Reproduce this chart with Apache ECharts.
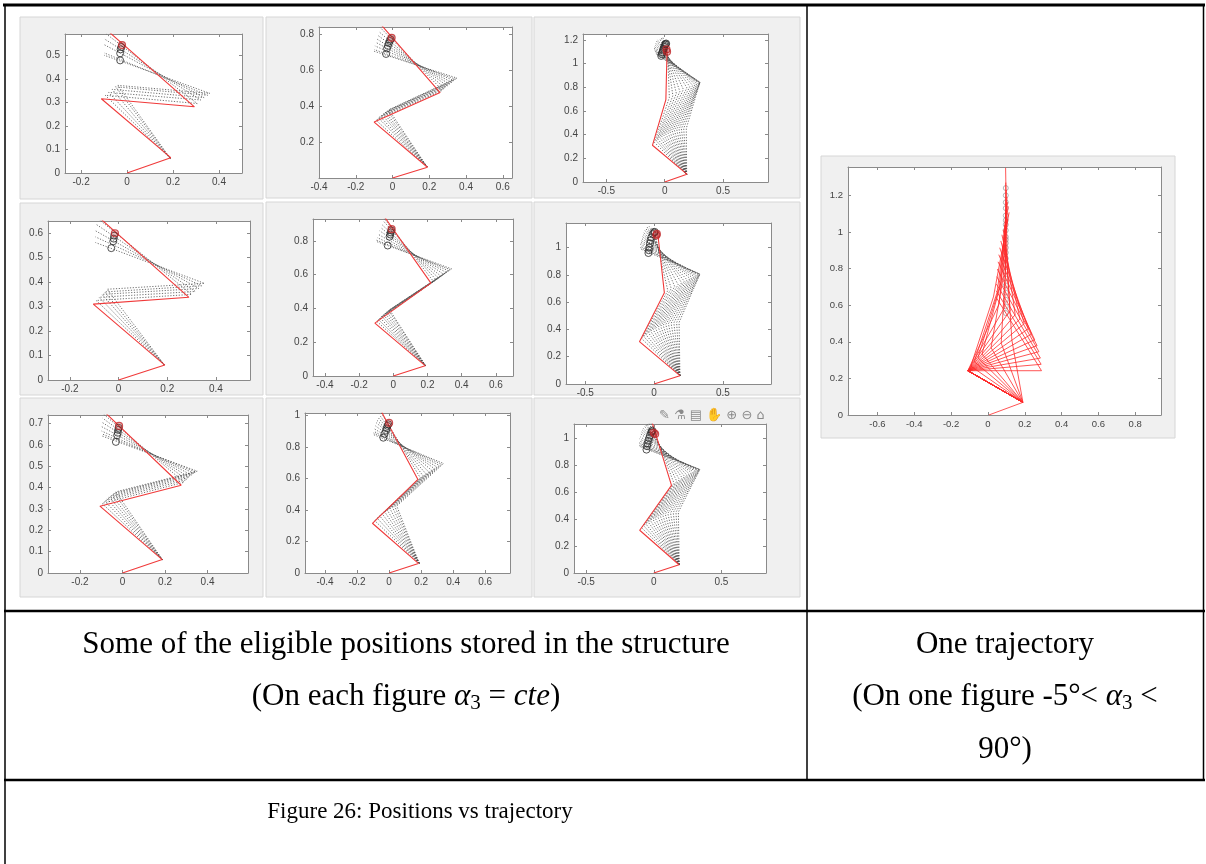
<!DOCTYPE html>
<html><head><meta charset="utf-8">
<script src="https://cdn.jsdelivr.net/npm/echarts@6/dist/echarts.min.js"></script>
<style>html,body{margin:0;padding:0;background:#fff}#c{width:1206px;height:864px}</style>
</head><body><div id="c"></div>
<script>
// ---------------- DATA ----------------
// common first link joint (x, y)
const joint1 = [0.188, 0.062];

// A1 (row 1, col 1)
const a1X = [-0.27, 0.5], a1Y = [0, 0.59];
const a1XTicks = [-0.2, 0, 0.2, 0.4], a1YTicks = [0, 0.1, 0.2, 0.3, 0.4, 0.5];
const a1Red = [[0,0],[0.19,0.065],[-0.112,0.315],[0.293,0.281],[-0.08,0.6]];
const a1Gray = [
  [[-0.095,0.33],[0.305,0.295],[-0.09,0.59]],
  [[-0.08,0.342],[0.32,0.31],[-0.1,0.57]],
  [[-0.065,0.355],[0.335,0.32],[-0.1,0.545]],
  [[-0.05,0.366],[0.35,0.33],[-0.1,0.51]],
  [[-0.04,0.372],[0.36,0.338],[-0.1,0.5]]
];
const a1Circ = [[-0.025,0.535],[-0.028,0.525],[-0.03,0.508],[-0.03,0.478]];
const a1RedCirc = [[-0.022,0.543]];

// A2 (row 1, col 2)
const a2X = [-0.4, 0.65], a2Y = [0, 0.84];
const a2XTicks = [-0.4, -0.2, 0, 0.2, 0.4, 0.6], a2YTicks = [0.2, 0.4, 0.6, 0.8];
const a2Red = [[0,0],[0.19,0.06],[-0.1,0.311],[0.259,0.475],[-0.06,0.85]];
const a2Gray = [
  [[-0.09,0.322],[0.272,0.488],[-0.065,0.835]],
  [[-0.078,0.335],[0.285,0.5],[-0.075,0.815]],
  [[-0.068,0.343],[0.298,0.512],[-0.082,0.795]],
  [[-0.057,0.352],[0.31,0.522],[-0.088,0.775]],
  [[-0.047,0.36],[0.322,0.532],[-0.092,0.755]],
  [[-0.038,0.367],[0.333,0.542],[-0.096,0.735]],
  [[-0.027,0.374],[0.342,0.55],[-0.1,0.715]],
  [[-0.02,0.38],[0.35,0.556],[-0.1,0.705]]
];
const a2Circ = [[-0.01,0.772],[-0.015,0.762],[-0.02,0.75],[-0.025,0.735],[-0.03,0.72],[-0.035,0.69]];
const a2RedCirc = [[-0.005,0.78]];

// A3 (row 1, col 3)
const a3X = [-0.7, 0.885], a3Y = [0, 1.25];
const a3XTicks = [-0.5, 0, 0.5], a3YTicks = [0, 0.2, 0.4, 0.6, 0.8, 1, 1.2];
const a3Red = [[0,0],[0.19,0.066],[-0.105,0.31],[0.01,0.695],[0.02,1.11]];
const a3Gray = [
  [[-0.088,0.335],[0.04,0.715],[0.02,1.2]],
  [[-0.072,0.348],[0.07,0.73],[0.0,1.21]],
  [[-0.059,0.362],[0.10,0.748],[-0.015,1.22]],
  [[-0.042,0.375],[0.13,0.765],[-0.03,1.22]],
  [[-0.026,0.387],[0.16,0.782],[-0.045,1.215]],
  [[-0.009,0.398],[0.19,0.795],[-0.06,1.2]],
  [[0.008,0.408],[0.215,0.805],[-0.07,1.19]],
  [[0.027,0.417],[0.24,0.815],[-0.08,1.175]],
  [[0.045,0.425],[0.26,0.823],[-0.085,1.16]],
  [[0.064,0.432],[0.275,0.83],[-0.09,1.145]],
  [[0.083,0.438],[0.288,0.835],[-0.09,1.13]],
  [[0.103,0.443],[0.297,0.839],[-0.09,1.12]],
  [[0.123,0.447],[0.302,0.841],[-0.088,1.11]],
  [[0.143,0.45],[0.303,0.842],[-0.085,1.1]],
  [[0.163,0.452],[0.302,0.84],[-0.08,1.09]],
  [[0.185,0.453],[0.30,0.838],[-0.075,1.08]]
];
const a3Circ = [[-0.03,1.065],[-0.025,1.08],[-0.02,1.095],[-0.015,1.11],[-0.01,1.125],[-0.005,1.14],[0.0,1.15],[0.005,1.16],[0.01,1.165],[0.012,1.17]];
const a3RedCirc = [[0.015,1.12],[0.02,1.1]];

// B1 (row 2, col 1)
const b1X = [-0.29, 0.54], b1Y = [0, 0.65];
const b1XTicks = [-0.2, 0, 0.2, 0.4], b1YTicks = [0, 0.1, 0.2, 0.3, 0.4, 0.5, 0.6];
const b1Red = [[0,0],[0.19,0.061],[-0.104,0.31],[0.289,0.338],[-0.075,0.66]];
const b1Gray = [
  [[-0.092,0.325],[0.30,0.35],[-0.085,0.66]],
  [[-0.08,0.338],[0.315,0.362],[-0.09,0.635]],
  [[-0.068,0.35],[0.33,0.374],[-0.095,0.61]],
  [[-0.057,0.36],[0.342,0.385],[-0.095,0.585]],
  [[-0.047,0.371],[0.353,0.395],[-0.095,0.562]]
];
const b1Circ = [[-0.018,0.59],[-0.02,0.578],[-0.022,0.567],[-0.03,0.539]];
const b1RedCirc = [[-0.015,0.6]];

// B2 (row 2, col 2)
const b2X = [-0.47, 0.7], b2Y = [0, 0.93];
const b2XTicks = [-0.4, -0.2, 0, 0.2, 0.4, 0.6], b2YTicks = [0, 0.2, 0.4, 0.6, 0.8];
const b2Red = [[0,0],[0.186,0.061],[-0.108,0.313],[0.22,0.55],[-0.05,0.94]];
const b2Gray = [
  [[-0.098,0.325],[0.235,0.56],[-0.055,0.935]],
  [[-0.088,0.335],[0.25,0.57],[-0.06,0.92]],
  [[-0.078,0.345],[0.265,0.58],[-0.07,0.9]],
  [[-0.068,0.355],[0.28,0.59],[-0.075,0.88]],
  [[-0.058,0.363],[0.295,0.602],[-0.08,0.86]],
  [[-0.048,0.372],[0.31,0.613],[-0.09,0.84]],
  [[-0.038,0.38],[0.322,0.623],[-0.095,0.82]],
  [[-0.028,0.388],[0.333,0.63],[-0.1,0.805]],
  [[-0.022,0.392],[0.34,0.635],[-0.1,0.797]]
];
const b2Circ = [[-0.012,0.862],[-0.015,0.85],[-0.018,0.838],[-0.022,0.825],[-0.033,0.773]];
const b2RedCirc = [[-0.01,0.87]];

// B3 (row 2, col 3)
const b3X = [-0.64, 0.85], b3Y = [0, 1.18];
const b3XTicks = [-0.5, 0, 0.5], b3YTicks = [0, 0.2, 0.4, 0.6, 0.8, 1];
const b3Red = [[0,0],[0.188,0.061],[-0.106,0.31],[0.075,0.668],[0.025,1.12]];
const b3Gray = [
  [[-0.09,0.333],[0.10,0.685],[-0.005,1.15]],
  [[-0.074,0.347],[0.125,0.7],[-0.02,1.155]],
  [[-0.058,0.36],[0.15,0.715],[-0.035,1.155]],
  [[-0.04,0.374],[0.175,0.728],[-0.05,1.15]],
  [[-0.024,0.386],[0.2,0.742],[-0.06,1.14]],
  [[-0.006,0.397],[0.22,0.753],[-0.07,1.13]],
  [[0.011,0.406],[0.24,0.763],[-0.08,1.115]],
  [[0.03,0.415],[0.26,0.773],[-0.085,1.1]],
  [[0.048,0.423],[0.275,0.781],[-0.09,1.085]],
  [[0.066,0.43],[0.29,0.789],[-0.095,1.07]],
  [[0.085,0.436],[0.303,0.795],[-0.1,1.055]],
  [[0.104,0.441],[0.315,0.8],[-0.1,1.04]],
  [[0.124,0.445],[0.323,0.803],[-0.1,1.025]],
  [[0.144,0.448],[0.33,0.805],[-0.1,1.01]],
  [[0.164,0.45],[0.333,0.806],[-0.1,1.0]],
  [[0.182,0.451],[0.333,0.805],[-0.1,0.99]]
];
const b3Circ = [[-0.041,0.96],[-0.038,0.98],[-0.034,1.0],[-0.03,1.03],[-0.026,1.053],[-0.02,1.075],[-0.01,1.1],[0.0,1.11],[0.005,1.115]];
const b3RedCirc = [[0.017,1.09],[0.02,1.1]];

// C1 (row 3, col 1)
const c1X = [-0.35, 0.59], c1Y = [0, 0.74];
const c1XTicks = [-0.2, 0, 0.2, 0.4], c1YTicks = [0, 0.1, 0.2, 0.3, 0.4, 0.5, 0.6, 0.7];
const c1Red = [[0,0],[0.187,0.063],[-0.106,0.313],[0.276,0.411],[-0.08,0.75]];
const c1Gray = [
  [[-0.096,0.326],[0.29,0.425],[-0.09,0.745]],
  [[-0.085,0.338],[0.302,0.437],[-0.093,0.725]],
  [[-0.074,0.348],[0.313,0.448],[-0.095,0.705]],
  [[-0.063,0.357],[0.325,0.458],[-0.097,0.685]],
  [[-0.052,0.366],[0.336,0.467],[-0.098,0.665]],
  [[-0.04,0.374],[0.345,0.473],[-0.098,0.652]],
  [[-0.031,0.38],[0.351,0.477],[-0.097,0.642]]
];
const c1Circ = [[-0.018,0.68],[-0.02,0.67],[-0.022,0.657],[-0.025,0.645],[-0.031,0.614]];
const c1RedCirc = [[-0.016,0.689]];

// C2 (row 3, col 2)
const c2X = [-0.525, 0.755], c2Y = [0, 1.017];
const c2XTicks = [-0.4, -0.2, 0, 0.2, 0.4, 0.6], c2YTicks = [0, 0.2, 0.4, 0.6, 0.8, 1];
const c2Red = [[0,0],[0.183,0.061],[-0.104,0.316],[0.18,0.595],[-0.045,1.02]];
const c2Gray = [
  [[-0.09,0.333],[0.195,0.605],[-0.05,1.02]],
  [[-0.074,0.348],[0.212,0.617],[-0.06,1.005]],
  [[-0.058,0.362],[0.23,0.63],[-0.07,0.99]],
  [[-0.042,0.375],[0.248,0.642],[-0.075,0.97]],
  [[-0.026,0.387],[0.265,0.653],[-0.08,0.955]],
  [[-0.01,0.398],[0.282,0.664],[-0.085,0.935]],
  [[0.006,0.408],[0.298,0.674],[-0.09,0.915]],
  [[0.022,0.416],[0.314,0.684],[-0.095,0.9]],
  [[0.036,0.422],[0.328,0.691],[-0.097,0.89]],
  [[0.048,0.426],[0.34,0.696],[-0.098,0.88]]
];
const c2Circ = [[-0.005,0.945],[-0.01,0.935],[-0.015,0.92],[-0.02,0.905],[-0.028,0.885],[-0.036,0.86]];
const c2RedCirc = [[0,0.954]];

// C3 (row 3, col 3)
const c3X = [-0.59, 0.83], c3Y = [0, 1.105];
const c3XTicks = [-0.5, 0, 0.5], c3YTicks = [0, 0.2, 0.4, 0.6, 0.8, 1];
const c3Red = [[0,0],[0.187,0.061],[-0.104,0.317],[0.131,0.65],[-0.01,1.11]];
const c3Gray = [
  [[-0.09,0.336],[0.15,0.665],[-0.02,1.11]],
  [[-0.074,0.35],[0.17,0.68],[-0.035,1.11]],
  [[-0.058,0.363],[0.19,0.693],[-0.05,1.105]],
  [[-0.04,0.376],[0.21,0.705],[-0.06,1.1]],
  [[-0.024,0.388],[0.228,0.716],[-0.07,1.09]],
  [[-0.006,0.398],[0.245,0.726],[-0.08,1.075]],
  [[0.011,0.407],[0.262,0.735],[-0.085,1.06]],
  [[0.03,0.416],[0.278,0.743],[-0.09,1.045]],
  [[0.048,0.424],[0.292,0.75],[-0.095,1.03]],
  [[0.066,0.431],[0.305,0.756],[-0.1,1.01]],
  [[0.085,0.437],[0.316,0.761],[-0.105,0.995]],
  [[0.104,0.442],[0.325,0.764],[-0.107,0.98]],
  [[0.124,0.446],[0.332,0.766],[-0.108,0.965]],
  [[0.144,0.449],[0.337,0.768],[-0.108,0.955]],
  [[0.164,0.451],[0.34,0.768],[-0.108,0.945]],
  [[0.182,0.452],[0.34,0.767],[-0.108,0.94]]
];
const c3Circ = [[-0.054,0.915],[-0.05,0.94],[-0.046,0.96],[-0.04,0.98],[-0.034,1.0],[-0.028,1.02],[-0.02,1.04],[-0.016,1.05],[-0.01,1.055]];
const c3RedCirc = [[0.0,1.04],[0.01,1.03]];

// D (trajectory): each config = [P2, P3, end of last link]
const dX = [-0.76, 0.94], dY = [0, 1.355];
const dXTicks = [-0.6, -0.4, -0.2, 0, 0.2, 0.4, 0.6, 0.8], dYTicks = [0, 0.2, 0.4, 0.6, 0.8, 1, 1.2];
const dLink1 = [[0.005,0],[0.19,0.069]];
const dConfigs = [
  [[-0.109,0.242],[0.291,0.242],[0.045,0.642]],
  [[-0.109,0.242],[0.289,0.277],[0.045,0.679]],
  [[-0.109,0.242],[0.285,0.311],[0.046,0.716]],
  [[-0.109,0.242],[0.277,0.346],[0.048,0.756]],
  [[-0.109,0.242],[0.267,0.379],[0.051,0.797]],
  [[-0.109,0.242],[0.254,0.411],[0.055,0.837]],
  [[-0.109,0.242],[0.237,0.442],[0.059,0.876]],
  [[-0.109,0.242],[0.219,0.471],[0.064,0.914]],
  [[-0.109,0.242],[0.197,0.499],[0.07,0.951]],
  [[-0.109,0.242],[0.174,0.525],[0.076,0.985]],
  [[-0.109,0.242],[0.148,0.548],[0.083,1.013]],
  [[-0.109,0.242],[0.12,0.57],[0.091,1.038]],
  [[-0.109,0.242],[0.091,0.588],[0.099,1.058]],
  [[-0.109,0.242],[0.06,0.605],[0.107,1.072]],
  [[-0.093,0.267],[0.03,0.645],[0.115,1.107]],
  [[-0.074,0.291],[0.05,0.67],[0.11,1.14]],
  [[-0.054,0.313],[0.062,0.696],[0.106,1.163]],
  [[-0.032,0.333],[0.07,0.72],[0.104,1.19]],
  [[0.017,0.368],[0.085,0.762],[0.1,1.23]],
  [[0.072,0.393],[0.095,0.792],[0.097,1.27]],
  [[0.13,0.409],[0.105,0.808],[0.096,1.35]]
];
const dTips = [0.557,0.593,0.63,0.669,0.708,0.746,0.784,0.82,0.855,0.887,0.914,0.939,0.958,0.973,1.009,1.04,1.064,1.09,1.13,1.162,1.2,1.24];
const dTipX = 0.097;

// ---------------- LAYOUT ----------------
const layout = [
  {g:[65,34,177,139],  X:a1X,Y:a1Y,xt:a1XTicks,yt:a1YTicks,red:a1Red,gray:a1Gray,c:a1Circ,rc:a1RedCirc},
  {g:[319,27,193,151], X:a2X,Y:a2Y,xt:a2XTicks,yt:a2YTicks,red:a2Red,gray:a2Gray,c:a2Circ,rc:a2RedCirc},
  {g:[583,34,185,148], X:a3X,Y:a3Y,xt:a3XTicks,yt:a3YTicks,red:a3Red,gray:a3Gray,c:a3Circ,rc:a3RedCirc},
  {g:[48,221,202,159], X:b1X,Y:b1Y,xt:b1XTicks,yt:b1YTicks,red:b1Red,gray:b1Gray,c:b1Circ,rc:b1RedCirc},
  {g:[313,219,200,157],X:b2X,Y:b2Y,xt:b2XTicks,yt:b2YTicks,red:b2Red,gray:b2Gray,c:b2Circ,rc:b2RedCirc},
  {g:[566,223,205,161],X:b3X,Y:b3Y,xt:b3XTicks,yt:b3YTicks,red:b3Red,gray:b3Gray,c:b3Circ,rc:b3RedCirc},
  {g:[48,415,200,158], X:c1X,Y:c1Y,xt:c1XTicks,yt:c1YTicks,red:c1Red,gray:c1Gray,c:c1Circ,rc:c1RedCirc},
  {g:[305,413,205,160],X:c2X,Y:c2Y,xt:c2XTicks,yt:c2YTicks,red:c2Red,gray:c2Gray,c:c2Circ,rc:c2RedCirc},
  {g:[574,424,192,149],X:c3X,Y:c3Y,xt:c3XTicks,yt:c3YTicks,red:c3Red,gray:c3Gray,c:c3Circ,rc:c3RedCirc},
  {g:[848,167,313,248],X:dX,Y:dY,xt:dXTicks,yt:dYTicks,big:true}
];
const panels = [
  [20,17,243,182],[266,17,266,181],[534,17,266,181],
  [20,203,243,192],[266,202,266,193],[534,202,266,193],
  [20,398,243,199],[266,398,266,199],[534,398,266,199],
  [821,156,354,282]
];

const AX = '#8a8a8a', LBL = '#454545', FONT = '"Liberation Sans", Arial, sans-serif';
const MCOL = ['#0072BD','#D95319','#EDB120','#7E2F8E','#77AC30','#4DBEEE','#A2142F'];
const grids = [], xAxes = [], yAxes = [], series = [], graphics = [];

panels.forEach(p => graphics.push({type:'rect', z:-20, shape:{x:p[0],y:p[1],width:p[2],height:p[3]},
  style:{fill:'#f0f0f0', stroke:'#d6d6d6', lineWidth:1}}));

layout.forEach((L, i) => {
  const fs = L.big ? 9.5 : 10;
  grids.push({left:L.g[0], top:L.g[1], width:L.g[2], height:L.g[3], containLabel:false});
  graphics.push({type:'rect', z:-10, shape:{x:L.g[0],y:L.g[1],width:L.g[2],height:L.g[3]}, style:{fill:'#ffffff'}});
  const mk = (pos, vals, lim, showLbl) => ({
    type:'value', gridIndex:i, position:pos, min:lim[0], max:lim[1],
    axisLine:{show:true, onZero:false, lineStyle:{color:AX, width:1}},
    axisTick:{show:true, inside:true, length:3, customValues:vals, lineStyle:{color:AX}},
    axisLabel:{show:showLbl, customValues:vals, fontSize:fs, color:LBL, fontFamily:FONT,
      margin:(pos==='left'||pos==='right')?5:4, formatter:v=>String(+v.toFixed(2))},
    splitLine:{show:false}
  });
  xAxes.push(mk('bottom', L.xt, L.X, true)); xAxes.push(mk('top', L.xt, L.X, false));
  yAxes.push(mk('left', L.yt, L.Y, true));   yAxes.push(mk('right', L.yt, L.Y, false));
  const xi = 2*i, yi = 2*i;
  const line = (data, color, width, type, z) => series.push({type:'line', xAxisIndex:xi, yAxisIndex:yi, data,
    symbol:'none', silent:true, animation:false, clip:true, z, lineStyle:{color, width, type}});
  if (!L.big) {
    L.gray.forEach(cfg => line([joint1].concat(cfg), '#4a4a4a', 0.8, [1.2,1.6], 2));
    line(L.red, '#f03a3a', 1.1, 'solid', 3);
    series.push({type:'scatter', xAxisIndex:xi, yAxisIndex:yi, data:L.c, symbol:'circle', symbolSize:7, silent:true,
      animation:false, z:4, itemStyle:{color:'rgba(0,0,0,0)', borderColor:'#2a2a2a', borderWidth:1}});
    series.push({type:'scatter', xAxisIndex:xi, yAxisIndex:yi, data:L.rc, symbol:'circle', symbolSize:7, silent:true,
      animation:false, z:5, itemStyle:{color:'rgba(180,30,30,0.35)', borderColor:'#c0282a', borderWidth:1.2}});
  } else {
    series.push({type:'scatter', xAxisIndex:xi, yAxisIndex:yi, data:dTips.map(y=>[dTipX,y]), symbol:'circle', symbolSize:5,
      silent:true, animation:false, z:2, itemStyle:{color:'rgba(0,0,0,0)', borderWidth:0.8, opacity:0.8,
        borderColor:(p)=>MCOL[p.dataIndex%MCOL.length]}});
    line(dLink1, '#ff2a2a', 0.8, 'solid', 3);
    dConfigs.forEach(cfg => line([dLink1[1]].concat(cfg), '#ff2a2a', 0.8, 'solid', 3));
  }
});

// table rules
const rule = (x1,y1,x2,y2,w) => graphics.push({type:'line', z:30, shape:{x1,y1,x2,y2}, style:{stroke:'#000', lineWidth:w}});
rule(3,5,1205,5,3);
rule(5,4,5,864,1.5);
rule(1203.5,4,1203.5,781,1.5);
rule(807,4,807,781,1.5);
rule(4,611,1205,611,2.5);
rule(4,780,1205,780,2.5);

const SERIF = '"Liberation Serif", "Times New Roman", serif';
const BODY = 31;
const txt = (x,y,text,size,rich) => graphics.push({type:'text', z:30, x, y, style:{text, fill:'#000', fontSize:size,
  fontFamily:SERIF, textAlign:'center', textVerticalAlign:'middle', align:'center', verticalAlign:'middle', rich}});
const mathRich = {
  i:{fontSize:BODY, fontFamily:SERIF, fontStyle:'italic', fill:'#000'},
  s:{fontSize:21, fontFamily:SERIF, fill:'#000', padding:[12,0,0,0]}
};
txt(406,645,'Some of the eligible positions stored in the structure',BODY);
txt(406,697,'(On each figure {i|α}{s|3} = {i|cte})',BODY,mathRich);
txt(1005,645,'One trajectory',BODY);
txt(1005,697,'(On one figure -5°< {i|α}{s|3} <',BODY,mathRich);
txt(1005,750,'90°)',BODY);
txt(420,812,'Figure 26: Positions vs trajectory',23);

// MATLAB axes toolbar (row 3, col 3)
graphics.push({type:'text', z:30, x:659, y:416, style:{text:'✎ ⚗ ▤ ✋ ⊕ ⊖ ⌂', fill:'#8a8a8a', fontSize:13,
  fontFamily:'"DejaVu Sans", sans-serif', textVerticalAlign:'middle', verticalAlign:'middle'}});

const chart = echarts.init(document.getElementById('c'), null, {renderer:'canvas', width:1206, height:864});
chart.setOption({backgroundColor:'#ffffff', animation:false, grid:grids, xAxis:xAxes, yAxis:yAxes, series, graphic:{elements:graphics}});
</script></body></html>
